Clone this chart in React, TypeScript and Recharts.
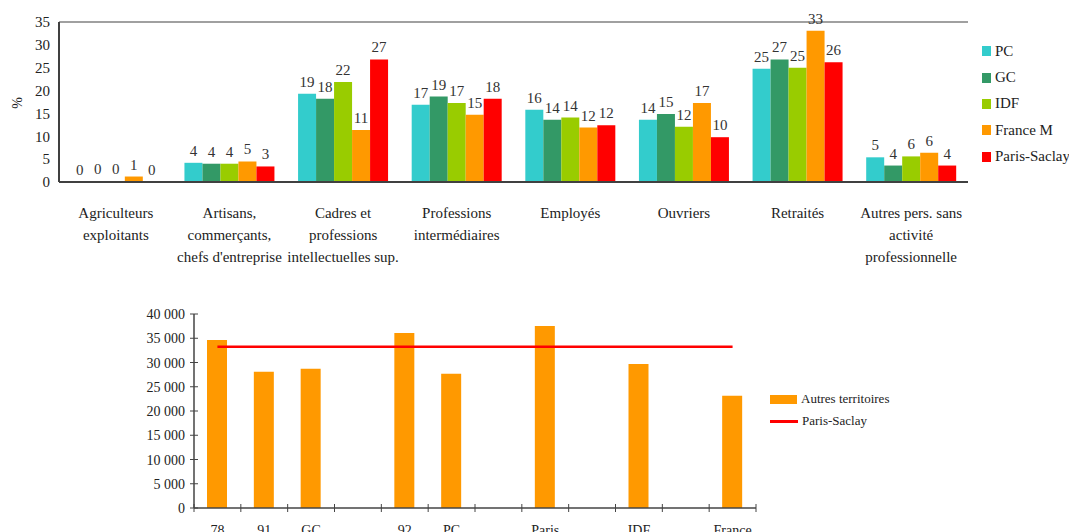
import React from 'react'
import { BarChart, ComposedChart, Bar, Line, XAxis, YAxis, Legend, LabelList, ReferenceLine } from 'recharts'

// --- chart 1: catégories socioprofessionnelles (%)
const categories = [
  'Agriculteurs\nexploitants',
  'Artisans,\ncommerçants,\nchefs d\'entreprise',
  'Cadres et\nprofessions\nintellectuelles sup.',
  'Professions\nintermédiaires',
  'Employés',
  'Ouvriers',
  'Retraités',
  'Autres pers. sans\nactivité\nprofessionnelle',
]
const pc = [0.1, 4.2, 19.3, 16.9, 15.8, 13.6, 24.8, 5.4]
const gc = [0.2, 4.0, 18.2, 18.7, 13.6, 14.9, 26.8, 3.6]
const idf = [0.2, 4.0, 21.9, 17.3, 14.1, 12.1, 25.0, 5.6]
const franceM = [1.2, 4.5, 11.4, 14.7, 11.9, 17.3, 33.1, 6.4]
const parisSaclay = [0.1, 3.4, 26.8, 18.2, 12.4, 9.8, 26.2, 3.6]
const pctTicks = [0, 5, 10, 15, 20, 25, 30, 35]

// --- chart 2: revenus
const territories = ['78', '91', 'GC', '', '92', 'PC', '', 'Paris', '', 'IDF', '', 'France']
const revenus = [34650, 28070, 28690, null, 36100, 27660, null, 37540, null, 29710, null, 23120]
const revenuParisSaclay = 33270
const revenuTicks = [0, 5000, 10000, 15000, 20000, 25000, 30000, 35000, 40000]

const FONT = 'Liberation Serif, Times New Roman, serif'

const series = [
  { key: 'pc', name: 'PC', color: '#33CCCC' },
  { key: 'gc', name: 'GC', color: '#339966' },
  { key: 'idf', name: 'IDF', color: '#99CC00' },
  { key: 'franceM', name: 'France M', color: '#FF9900' },
  { key: 'parisSaclay', name: 'Paris-Saclay', color: '#FF0000' },
]

const csp = categories.map((c, i) => ({
  name: c,
  pc: pc[i],
  gc: gc[i],
  idf: idf[i],
  franceM: franceM[i],
  parisSaclay: parisSaclay[i],
}))

const rev = territories.map((t, i) => ({
  name: t,
  autres: revenus[i],
  parisSaclay: revenuParisSaclay,
}))

const CategoryTick = (props: any) => {
  const { x, y, payload } = props
  const lines = String(payload.value).split('\n')
  return (
    <text x={x} y={y + 36} textAnchor="middle" fontSize={15} fill="#222" style={{ fontFamily: FONT }}>
      {lines.map((l, i) => (
        <tspan key={i} x={x} dy={i === 0 ? 0 : 22}>{l}</tspan>
      ))}
    </text>
  )
}

const BOTTOM_W = 1069
const BOTTOM_LEFT = 194
const BOTTOM_RIGHT = 313
const band = (BOTTOM_W - BOTTOM_LEFT - BOTTOM_RIGHT) / territories.length

const TerritoryTick = (props: any) => {
  const { x, y, payload, index } = props
  return (
    <g>
      <line x1={x - band / 2} x2={x - band / 2} y1={y - 4} y2={y + 4} stroke="#444" />
      {index === territories.length - 1 && (
        <line x1={x + band / 2} x2={x + band / 2} y1={y - 4} y2={y + 4} stroke="#444" />
      )}
      <text x={x} y={y + 27} textAnchor="middle" fontSize={14} fill="#222" style={{ fontFamily: FONT }}>
        {payload.value}
      </text>
    </g>
  )
}

const fmt = (v: number) => String(v).replace(/\B(?=(\d{3})+(?!\d))/g, ' ')

const RevenuTick = (props: any) => {
  const { x, y, payload } = props
  return (
    <g>
      <line x1={x - 4} x2={x + 4} y1={y} y2={y} stroke="#444" />
      <text x={x - 9} y={y} dy={5} textAnchor="end" fontSize={14} fill="#222" style={{ fontFamily: FONT }}>
        {fmt(payload.value)}
      </text>
    </g>
  )
}

const TopLegend = () => (
  <div style={{ fontFamily: FONT, fontSize: 15, color: '#222' }}>
    {series.map(s => (
      <div key={s.key} style={{ display: 'flex', alignItems: 'center', height: 26.4 }}>
        <span style={{ width: 9, height: 10, background: s.color, marginRight: 4 }} />
        <span style={{ whiteSpace: 'nowrap' }}>{s.name}</span>
      </div>
    ))}
  </div>
)

const BottomLegend = () => (
  <div style={{ fontFamily: FONT, fontSize: 13, color: '#222' }}>
    <div style={{ display: 'flex', alignItems: 'center', height: 22 }}>
      <span style={{ width: 27, height: 9, background: '#FF9900', marginRight: 4 }} />
      <span style={{ whiteSpace: 'nowrap' }}>Autres territoires</span>
    </div>
    <div style={{ display: 'flex', alignItems: 'center', height: 22 }}>
      <span style={{ width: 28, height: 3, background: '#FF0000', marginRight: 4 }} />
      <span style={{ whiteSpace: 'nowrap' }}>Paris-Saclay</span>
    </div>
  </div>
)

const PercentLabel = () => (
  <text x={17} y={103} transform="rotate(-90 17 103)" textAnchor="middle" dominantBaseline="central"
    fontSize={14} fill="#222" style={{ fontFamily: FONT }}>
    %
  </text>
)

export default function App() {
  return (
    <div style={{ position: 'absolute', left: 0, top: 0, width: 1069, height: 532, background: '#fff', overflow: 'hidden', fontFamily: FONT }}>
      <div style={{ position: 'absolute', left: 0, top: 0 }}>
        <BarChart
          width={1069}
          height={290}
          data={csp}
          margin={{ top: 22, right: 101, left: 0, bottom: 0 }}
          barGap={0}
          barCategoryGap="10.4%"
          style={{ fontFamily: FONT }}
        >
          <XAxis
            dataKey="name"
            interval={0}
            height={108}
            tickLine={false}
            tickSize={0}
            tickMargin={0}
            tick={<CategoryTick />}
            stroke="#404040"
            strokeWidth={2}
          />
          <YAxis
            width={59}
            domain={[0, 35]}
            ticks={pctTicks}
            tickLine={false}
            tickSize={4}
            tickMargin={5}
            stroke="#404040"
            strokeWidth={2}
            tick={{ fontSize: 15, fill: '#222', fontFamily: FONT }}
            label={<PercentLabel />}
          />
          <YAxis yAxisId="r" orientation="right" width={0} tick={false} tickLine={false} stroke="#808080" strokeWidth={1.5} />
          <ReferenceLine y={35} stroke="#808080" strokeWidth={1.5} />
          <Legend
            layout="vertical"
            align="center"
            verticalAlign="middle"
            wrapperStyle={{ left: 982, top: 38, width: 'auto' }}
            content={<TopLegend />}
          />
          {series.map(s => (
            <Bar key={s.key} dataKey={s.key} name={s.name} fill={s.color} isAnimationActive={false}>
              <LabelList
                dataKey={s.key}
                position="top"
                offset={7}
                formatter={(v: any) => Math.round(Number(v))}
                style={{ fontSize: 15, fill: '#333', fontFamily: FONT }}
              />
            </Bar>
          ))}
        </BarChart>
      </div>
      <div style={{ position: 'absolute', left: 0, top: 290 }}>
        <ComposedChart
          width={BOTTOM_W}
          height={242}
          data={rev}
          margin={{ top: 24, right: BOTTOM_RIGHT, left: 0, bottom: 0 }}
          style={{ fontFamily: FONT }}
        >
          <XAxis
            dataKey="name"
            interval={0}
            height={24}
            tickLine={false}
            tickSize={0}
            tickMargin={0}
            tick={<TerritoryTick />}
            stroke="#444"
            strokeWidth={1.5}
          />
          <YAxis
            width={BOTTOM_LEFT}
            domain={[0, 40000]}
            ticks={revenuTicks}
            tickLine={false}
            tickSize={0}
            tickMargin={0}
            tick={<RevenuTick />}
            stroke="#444"
            strokeWidth={1.5}
          />
          <Legend
            layout="vertical"
            align="center"
            verticalAlign="middle"
            wrapperStyle={{ left: 770, top: 98, width: 'auto' }}
            content={<BottomLegend />}
          />
          <Bar dataKey="autres" name="Autres territoires" fill="#FF9900" barSize={20} isAnimationActive={false} />
          <Line
            dataKey="parisSaclay"
            name="Paris-Saclay"
            stroke="#FF0000"
            strokeWidth={2.5}
            dot={false}
            activeDot={false}
            isAnimationActive={false}
          />
        </ComposedChart>
      </div>
    </div>
  )
}
